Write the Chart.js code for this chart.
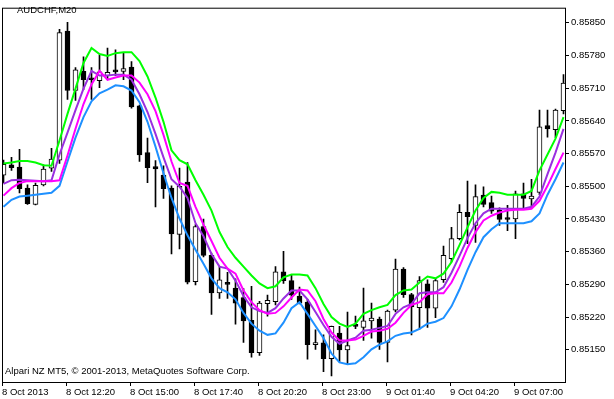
<!DOCTYPE html>
<html>
<head>
<meta charset="utf-8">
<title>AUDCHF,M20</title>
<script src="https://cdn.jsdelivr.net/npm/chart.js@4.4.1/dist/chart.umd.min.js"></script>
<style>
  html, body { margin: 0; padding: 0; background: #fff; }
  #wrap { position: relative; width: 614px; height: 399px; }
  .note { position: absolute; font: 9.5px "Liberation Sans", Arial, sans-serif; color: #000; white-space: nowrap; line-height: 12px; }
</style>
</head>
<body>
<div id="wrap">
  <canvas id="chart" width="614" height="399"></canvas>
  <div class="note" style="left:17px;top:4px;">AUDCHF,M20</div>
  <div class="note" style="left:5px;top:365px;">Alpari NZ MT5, © 2001-2013, MetaQuotes Software Corp.</div>
</div>
<script>
// tick labels (every 8th bar)
const timeLabels = ['8 Oct 2013', '8 Oct 12:20', '8 Oct 15:00', '8 Oct 17:40', '8 Oct 20:20',
    '8 Oct 23:00', '9 Oct 01:40', '9 Oct 04:20', '9 Oct 07:00'];
const labelBars = [0, 8, 16, 24, 32, 40, 48, 56, 64];
const priceTicks = [0.85150, 0.85220, 0.85290, 0.85360, 0.85430, 0.85500,
    0.85570, 0.85640, 0.85710, 0.85780, 0.85850];

// candles
const opens = [0.85524, 0.85546, 0.85541, 0.85496, 0.85461, 0.85503, 0.85539, 0.85556, 0.85832, 0.85705,
    0.85746, 0.85730, 0.85726, 0.85737, 0.85748, 0.85746, 0.85755, 0.85672, 0.85572, 0.85542,
    0.85524, 0.85496, 0.85397, 0.85509, 0.85296, 0.85414, 0.85352, 0.85272, 0.85291, 0.85282,
    0.85262, 0.85213, 0.85144, 0.85249, 0.85253, 0.85317, 0.85298, 0.85265, 0.85252, 0.85161,
    0.85165, 0.85131, 0.85186, 0.85150, 0.85202, 0.85198, 0.85212, 0.85216, 0.85166, 0.85235,
    0.85323, 0.85268, 0.85240, 0.85291, 0.85239, 0.85300, 0.85345, 0.85388, 0.85444, 0.85416,
    0.85481, 0.85465, 0.85449, 0.85431, 0.85430, 0.85484, 0.85473, 0.85487, 0.85630, 0.85621,
    0.85662];
const highs = [0.85556, 0.85562, 0.85579, 0.85503, 0.85507, 0.85546, 0.85581, 0.85836, 0.85851, 0.85754,
    0.85777, 0.85754, 0.85781, 0.85796, 0.85792, 0.85785, 0.85767, 0.85674, 0.85603, 0.85555,
    0.85544, 0.85501, 0.85539, 0.85551, 0.85418, 0.85430, 0.85357, 0.85328, 0.85316, 0.85302,
    0.85281, 0.85286, 0.85254, 0.85267, 0.85328, 0.85361, 0.85310, 0.85284, 0.85258, 0.85193,
    0.85182, 0.85201, 0.85200, 0.85231, 0.85222, 0.85282, 0.85250, 0.85220, 0.85235, 0.85344,
    0.85326, 0.85271, 0.85307, 0.85300, 0.85303, 0.85372, 0.85412, 0.85461, 0.85511, 0.85503,
    0.85499, 0.85479, 0.85454, 0.85459, 0.85490, 0.85507, 0.85515, 0.85663, 0.85663, 0.85665,
    0.85739];
const lows = [0.85507, 0.85534, 0.85486, 0.85461, 0.85460, 0.85501, 0.85532, 0.85549, 0.85686, 0.85684,
    0.85707, 0.85686, 0.85711, 0.85728, 0.85737, 0.85728, 0.85667, 0.85553, 0.85508, 0.85456,
    0.85474, 0.85355, 0.85366, 0.85291, 0.85289, 0.85349, 0.85226, 0.85260, 0.85260, 0.85205,
    0.85166, 0.85134, 0.85138, 0.85222, 0.85246, 0.85292, 0.85258, 0.85248, 0.85130, 0.85151,
    0.85103, 0.85094, 0.85124, 0.85119, 0.85195, 0.85170, 0.85175, 0.85151, 0.85124, 0.85231,
    0.85262, 0.85182, 0.85194, 0.85198, 0.85219, 0.85294, 0.85338, 0.85385, 0.85377, 0.85380,
    0.85456, 0.85442, 0.85416, 0.85405, 0.85388, 0.85454, 0.85454, 0.85482, 0.85605, 0.85604,
    0.85655];
const closes = [0.85547, 0.85540, 0.85495, 0.85463, 0.85502, 0.85537, 0.85558, 0.85829, 0.85705, 0.85749,
    0.85728, 0.85728, 0.85745, 0.85744, 0.85745, 0.85752, 0.85670, 0.85567, 0.85540, 0.85537,
    0.85495, 0.85398, 0.85500, 0.85295, 0.85414, 0.85352, 0.85272, 0.85300, 0.85290, 0.85250,
    0.85212, 0.85144, 0.85250, 0.85256, 0.85317, 0.85298, 0.85267, 0.85250, 0.85161, 0.85165,
    0.85131, 0.85200, 0.85150, 0.85159, 0.85200, 0.85212, 0.85218, 0.85166, 0.85233, 0.85323,
    0.85268, 0.85242, 0.85298, 0.85239, 0.85298, 0.85352, 0.85388, 0.85444, 0.85435, 0.85478,
    0.85461, 0.85447, 0.85429, 0.85429, 0.85484, 0.85474, 0.85479, 0.85627, 0.85623, 0.85663,
    0.85721];

// indicator lines
const greenLine = [0.85549, 0.85551, 0.85554, 0.85554, 0.85551, 0.85545, 0.85544, 0.85598, 0.85655, 0.85709,
    0.85764, 0.85796, 0.85783, 0.85779, 0.85785, 0.85787, 0.85787, 0.85768, 0.85735, 0.85690,
    0.85638, 0.85577, 0.85556, 0.85547, 0.85513, 0.85482, 0.85448, 0.85402, 0.85370, 0.85347,
    0.85328, 0.85309, 0.85292, 0.85282, 0.85286, 0.85305, 0.85311, 0.85311, 0.85309, 0.85282,
    0.85248, 0.85220, 0.85206, 0.85199, 0.85206, 0.85227, 0.85235, 0.85241, 0.85246, 0.85267,
    0.85277, 0.85279, 0.85294, 0.85307, 0.85303, 0.85313, 0.85338, 0.85374, 0.85412, 0.85448,
    0.85475, 0.85488, 0.85486, 0.85482, 0.85482, 0.85482, 0.85490, 0.85534, 0.85568, 0.85602,
    0.85648];
const purpleLine = [0.85505, 0.85513, 0.85514, 0.85513, 0.85512, 0.85511, 0.85513, 0.85568, 0.85615, 0.85663,
    0.85709, 0.85747, 0.85737, 0.85737, 0.85739, 0.85739, 0.85728, 0.85697, 0.85659, 0.85612,
    0.85562, 0.85515, 0.85499, 0.85475, 0.85421, 0.85393, 0.85355, 0.85328, 0.85324, 0.85298,
    0.85265, 0.85241, 0.85233, 0.85229, 0.85239, 0.85260, 0.85277, 0.85277, 0.85258, 0.85231,
    0.85203, 0.85178, 0.85163, 0.85170, 0.85176, 0.85191, 0.85193, 0.85197, 0.85201, 0.85227,
    0.85241, 0.85248, 0.85271, 0.85273, 0.85273, 0.85284, 0.85315, 0.85351, 0.85389, 0.85421,
    0.85442, 0.85452, 0.85452, 0.85452, 0.85452, 0.85452, 0.85456, 0.85478, 0.85526, 0.85572,
    0.85623];
const magentaLine = [0.85480, 0.85496, 0.85507, 0.85511, 0.85511, 0.85511, 0.85511, 0.85513, 0.85566, 0.85623,
    0.85676, 0.85718, 0.85747, 0.85728, 0.85733, 0.85737, 0.85737, 0.85722, 0.85697, 0.85661,
    0.85610, 0.85553, 0.85507, 0.85501, 0.85456, 0.85418, 0.85383, 0.85347, 0.85324, 0.85313,
    0.85277, 0.85252, 0.85235, 0.85227, 0.85229, 0.85243, 0.85262, 0.85279, 0.85277, 0.85254,
    0.85216, 0.85187, 0.85170, 0.85170, 0.85172, 0.85180, 0.85189, 0.85191, 0.85195, 0.85208,
    0.85229, 0.85246, 0.85252, 0.85269, 0.85271, 0.85271, 0.85294, 0.85328, 0.85368, 0.85402,
    0.85427, 0.85437, 0.85444, 0.85448, 0.85450, 0.85450, 0.85452, 0.85469, 0.85501, 0.85537,
    0.85572];
const blueLine = [0.85456, 0.85471, 0.85478, 0.85480, 0.85482, 0.85484, 0.85486, 0.85501, 0.85553, 0.85604,
    0.85648, 0.85682, 0.85699, 0.85707, 0.85716, 0.85714, 0.85705, 0.85680, 0.85638, 0.85585,
    0.85528, 0.85475, 0.85431, 0.85395, 0.85364, 0.85334, 0.85303, 0.85282, 0.85273, 0.85258,
    0.85229, 0.85206, 0.85191, 0.85182, 0.85185, 0.85208, 0.85239, 0.85252, 0.85227, 0.85201,
    0.85175, 0.85142, 0.85123, 0.85119, 0.85121, 0.85134, 0.85151, 0.85161, 0.85168, 0.85180,
    0.85185, 0.85187, 0.85195, 0.85206, 0.85210, 0.85218, 0.85243, 0.85279, 0.85321, 0.85359,
    0.85391, 0.85408, 0.85421, 0.85421, 0.85421, 0.85421, 0.85425, 0.85442, 0.85482, 0.85515,
    0.85551];

// bar index range shown (8 px per bar)
const X_MIN = -0.1875;
const X_MAX = X_MIN + 563 / 8;

const FONT = { family: '"Liberation Sans", Arial, sans-serif', size: 9.5 };
Chart.defaults.color = '#000';

function lineSet(values, color, order) {
    return {
        type: 'line',
        data: values.map((v, i) => ({ x: i, y: v })),
        borderColor: color,
        borderWidth: 2,
        pointRadius: 0,
        tension: 0,
        fill: false,
        order: order
    };
}

// black frame round the plot area
const framePlugin = {
    id: 'frame',
    afterDatasetsDraw(chart) {
        const { ctx, chartArea: a } = chart;
        ctx.save();
        ctx.strokeStyle = '#000';
        ctx.lineWidth = 1;
        ctx.strokeRect(a.left + 0.5, a.top + 0.5, a.right - a.left, a.bottom - a.top);
        ctx.restore();
    }
};

new Chart(document.getElementById('chart'), {
    type: 'bar',
    data: {
        datasets: [
            lineSet(greenLine, '#00ff00', 0),
            lineSet(magentaLine, '#ff00ff', 1),
            lineSet(purpleLine, '#9a2fe0', 2),
            lineSet(blueLine, '#1e90ff', 3),
            {
                // candle bodies
                data: opens.map((o, i) => ({ x: i, y: [Math.min(o, closes[i]), Math.max(o, closes[i])] })),
                backgroundColor: opens.map((o, i) => closes[i] >= o ? '#ffffff' : '#000000'),
                borderColor: '#000000',
                borderWidth: 1,
                borderSkipped: false,
                barThickness: 5,
                minBarLength: 2,
                grouped: false,
                order: 4
            },
            {
                // wicks
                data: lows.map((l, i) => ({ x: i, y: [l, highs[i]] })),
                backgroundColor: '#000000',
                borderWidth: 0,
                barThickness: 1,
                grouped: false,
                order: 5
            }
        ]
    },
    options: {
        responsive: false,
        animation: false,
        layout: { padding: { left: 2, top: 2, right: 0, bottom: 0 } },
        plugins: { legend: { display: false }, tooltip: { enabled: false } },
        scales: {
            x: {
                type: 'linear',
                min: X_MIN,
                max: X_MAX,
                offset: false,
                afterBuildTicks: (axis) => {
                    axis.ticks = labelBars.map(b => ({ value: b + X_MIN }));
                },
                afterFit: (axis) => { axis.height = 17; },
                grid: { offset: false, drawOnChartArea: false, tickLength: 4, color: '#000' },
                border: { display: false },
                ticks: {
                    align: 'start',
                    autoSkip: false,
                    maxRotation: 0,
                    padding: 1,
                    font: FONT,
                    callback: (value, index) => timeLabels[index]
                }
            },
            y: {
                position: 'right',
                min: 0.850811,
                max: 0.8588225,
                beginAtZero: false,
                afterBuildTicks: (axis) => {
                    axis.ticks = priceTicks.map(v => ({ value: v }));
                },
                afterFit: (axis) => { axis.width = 49; },
                grid: { drawOnChartArea: false, tickLength: 4, color: '#000' },
                border: { display: false },
                ticks: {
                    padding: 2,
                    font: FONT,
                    callback: (value) => value.toFixed(5)
                }
            }
        }
    },
    plugins: [framePlugin]
});
</script>
</body>
</html>
